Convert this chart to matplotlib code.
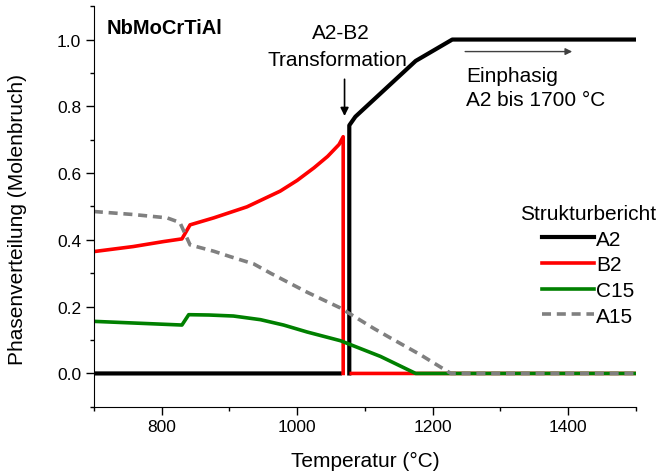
import numpy as np
import matplotlib
matplotlib.use('Agg')
import matplotlib.pyplot as plt
from matplotlib.ticker import MultipleLocator

plt.rcParams['font.family'] = ['Liberation Sans', 'DejaVu Sans']

nan = np.nan

# Phasenanteile (Molenbruch) über Temperatur in °C
a2_t = [700, 1063, nan, 1077, 1077, 1086, 1175, 1229, 1500]
a2_y = [0.0, 0.0, nan, 0.0, 0.743, 0.769, 0.936, 1.0, 1.0]

b2_t = [700, 758, 803, 830, 842, 877, 926, 975, 1000, 1025, 1045, 1062, 1068, 1068, nan, 1080, 1500]
b2_y = [0.365, 0.380, 0.395, 0.403, 0.445, 0.466, 0.499, 0.546, 0.578, 0.616, 0.650, 0.686, 0.709, 0.0, nan, 0.0, 0.0]

c15_t = [700, 830, 840, 870, 906, 946, 980, 1015, 1064, 1123, 1175, 1500]
c15_y = [0.156, 0.145, 0.176, 0.175, 0.172, 0.161, 0.145, 0.124, 0.098, 0.051, 0.0, 0.0]

a15_t = [700, 758, 808, 827, 842, 877, 901, 936, 961, 1015, 1064, 1113, 1138, 1182, 1202, 1227, 1500]
a15_y = [0.485, 0.476, 0.466, 0.452, 0.385, 0.366, 0.350, 0.328, 0.300, 0.243, 0.196, 0.135, 0.106, 0.056, 0.031, 0.0, 0.0]

fig = plt.figure(figsize=(6.61, 4.77), dpi=100)
ax = fig.add_axes([0.142, 0.145, 0.820, 0.840])

ax.plot(a2_t, a2_y, color='black', lw=3, label='A2')
ax.plot(b2_t, b2_y, color='#ff0000', lw=2.6, label='B2')
ax.plot(c15_t, c15_y, color='#008000', lw=2.6, label='C15')
ax.plot(a15_t, a15_y, color='#808080', lw=2.6, ls=(0, (2.5, 1.6)), label='A15')

ax.set_xlim(700, 1500)
ax.set_ylim(-0.1, 1.1)
ax.xaxis.set_major_locator(MultipleLocator(200))
ax.xaxis.set_minor_locator(MultipleLocator(100))
ax.yaxis.set_major_locator(MultipleLocator(0.2))
ax.yaxis.set_minor_locator(MultipleLocator(0.1))
ax.yaxis.set_major_formatter(plt.FormatStrFormatter('%.1f'))
ax.tick_params(which='major', length=6, width=1, labelsize=12.5, pad=3)
ax.tick_params(which='minor', length=3, width=1)
ax.spines['top'].set_visible(False)
ax.spines['right'].set_visible(False)

ax.set_xlabel('Temperatur (°C)', fontsize=15)
ax.set_ylabel('Phasenverteilung (Molenbruch)', fontsize=15)
ax.xaxis.set_label_coords(0.5, -0.11)
ax.yaxis.set_label_coords(-0.124, 0.47)

ax.text(719, 1.019, 'NbMoCrTiAl', fontsize=14.5, fontweight='bold', va='baseline')
ax.text(1064, 1.006, 'A2-B2', fontsize=15, ha='center', va='baseline')
ax.text(1060, 0.925, 'Transformation', fontsize=15, ha='center', va='baseline')
ax.annotate('', xy=(1070, 0.771), xytext=(1070, 0.881),
            arrowprops=dict(arrowstyle='-|>', color='black', lw=1.2,
                            mutation_scale=12, shrinkA=0, shrinkB=0))

ax.annotate('', xy=(1406, 0.964), xytext=(1248, 0.964),
            arrowprops=dict(arrowstyle='-|>', color='#404040', lw=1,
                            mutation_scale=10, shrinkA=0, shrinkB=0))
ax.text(1249, 0.876, 'Einphasig', fontsize=15, va='baseline')
ax.text(1249, 0.803, 'A2 bis 1700 °C', fontsize=15, va='baseline')

ax.legend(title='Strukturbericht', fontsize=15, title_fontsize=15, frameon=False,
          loc='upper left', bbox_to_anchor=(0.759, 0.543), handlelength=2.5,
          handletextpad=0.1, labelspacing=0.32, borderpad=0.2)

fig.savefig('out.png', dpi=100)
